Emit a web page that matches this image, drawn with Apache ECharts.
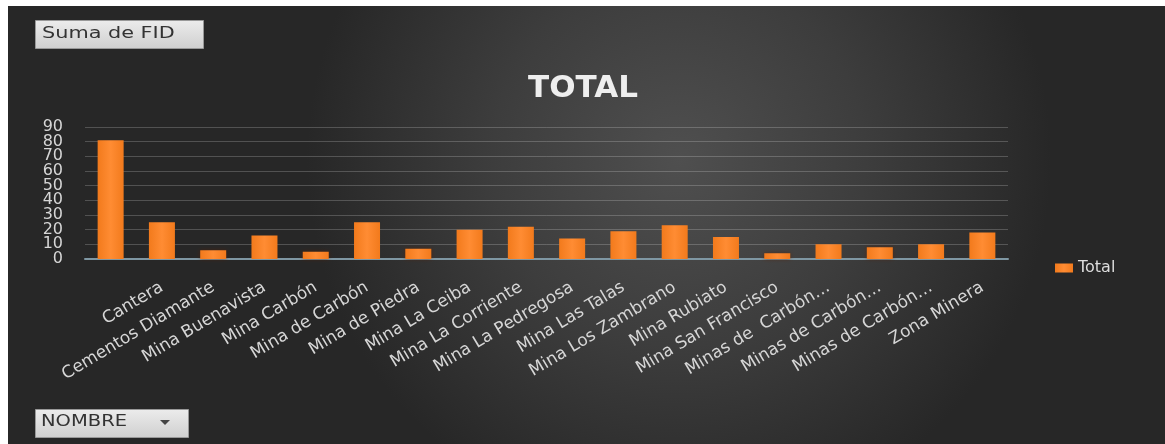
<!DOCTYPE html>
<html>
<head>
<meta charset="utf-8">
<script src="https://cdn.jsdelivr.net/npm/echarts@6/dist/echarts.min.js"></script>
<style>
html,body{margin:0;padding:0;background:#ffffff;}
#c{position:absolute;left:8px;top:6px;width:1157px;height:438px;}
</style>
</head>
<body>
<div id="c"></div>
<script>
var categories = ["", "Cantera", "Cementos Diamante", "Mina Buenavista", "Mina Carbón", "Mina de Carbón", "Mina de Piedra", "Mina La Ceiba", "Mina La Corriente", "Mina La Pedregosa", "Mina Las Talas", "Mina Los Zambrano", "Mina Rubiato", "Mina San Francisco", "Minas de  Carbón…", "Minas de Carbón…", "Minas de Carbón…", "Zona Minera"];
var totalValues = [81, 25, 6, 16, 5, 25, 7, 20, 22, 14, 19, 23, 15, 4, 10, 8, 10, 18];
var yTicksEven = [0, 20, 40, 60, 80];
var yTicksOdd = [10, 30, 50, 70, 90];

var chart = echarts.init(document.getElementById('c'));
var font = 'DejaVu Sans';
var yLabelStyle = {margin: 22, color: '#d6d6d6', fontSize: 16, fontFamily: font};
chart.setOption({
  backgroundColor: {
    type: 'radial', x: 0.58, y: 0.35, r: 0.85,
    colorStops: [{offset: 0, color: '#4f4f4f'}, {offset: 0.5, color: '#3d3d3d'}, {offset: 1, color: '#272727'}]
  },
  title: {
    text: 'TOTAL', left: 570, top: 62, textAlign: 'center',
    textStyle: {color: '#eeeeee', fontSize: 31, fontWeight: 'bold', fontFamily: font}
  },
  legend: {
    data: ['Total'], left: 1042, top: 249, itemWidth: 18, itemHeight: 9, itemGap: 6,
    icon: 'rect',
    textStyle: {color: '#dddddd', fontSize: 16, fontFamily: font}
  },
  grid: {left: 77, right: 157, top: 121, bottom: 185, containLabel: false},
  xAxis: {
    type: 'category', data: categories,
    axisLine: {show: true, lineStyle: {color: '#7f97a3', width: 2}},
    axisTick: {show: false},
    axisLabel: {
      interval: 0, rotate: 31, margin: 27, color: '#d6d6d6', fontSize: 17, fontFamily: font
    }
  },
  yAxis: [{
    type: 'value', min: 0, max: 90, interval: 10, position: 'left',
    axisLine: {show: false}, axisTick: {show: false},
    splitLine: {lineStyle: {color: 'rgba(255,255,255,0.2)', width: 1}},
    axisLabel: Object.assign({}, yLabelStyle, {
      showMinLabel: true, showMaxLabel: false,
      formatter: function (v) { return yTicksEven.indexOf(v) >= 0 ? String(v) : ''; }
    })
  }, {
    type: 'value', min: 0, max: 90, interval: 10, position: 'left', offset: 0,
    axisLine: {show: false}, axisTick: {show: false}, splitLine: {show: false},
    axisLabel: Object.assign({}, yLabelStyle, {
      showMinLabel: false, showMaxLabel: true,
      formatter: function (v) { return yTicksOdd.indexOf(v) >= 0 ? String(v) : ''; }
    })
  }],
  series: [{
    name: 'Total', type: 'bar', data: totalValues, barWidth: 26, yAxisIndex: 0,
    itemStyle: {
      color: {type: 'linear', x: 0, y: 0, x2: 1, y2: 0,
        colorStops: [{offset: 0, color: '#f27a1c'}, {offset: 0.5, color: '#ff8c33'}, {offset: 1, color: '#f27a1c'}]},
      shadowColor: 'rgba(90,30,0,0.6)', shadowBlur: 4
    }
  }],
  graphic: [
    {type: 'rect', left: 27, top: 14, shape: {width: 168, height: 28},
      style: {fill: {type: 'linear', x: 0, y: 0, x2: 0, y2: 1,
        colorStops: [{offset: 0, color: '#ececec'}, {offset: 1, color: '#cfcfcf'}]}, stroke: '#999999', lineWidth: 1}},
    {type: 'text', x: 34, y: 20, scaleX: 1.3, style: {text: 'Suma de FID', fill: '#333333', fontSize: 16, fontFamily: font}},
    {type: 'rect', left: 27, top: 403, shape: {width: 153, height: 28},
      style: {fill: {type: 'linear', x: 0, y: 0, x2: 0, y2: 1,
        colorStops: [{offset: 0, color: '#ececec'}, {offset: 1, color: '#cfcfcf'}]}, stroke: '#999999', lineWidth: 1}},
    {type: 'text', x: 33, y: 409, scaleX: 1.3, style: {text: 'NOMBRE', fill: '#333333', fontSize: 15, fontFamily: font}},
    {type: 'polygon', shape: {points: [[152, 414], [162, 414], [157, 419]]}, style: {fill: '#444444'}}
  ]
});
</script>
</body>
</html>
